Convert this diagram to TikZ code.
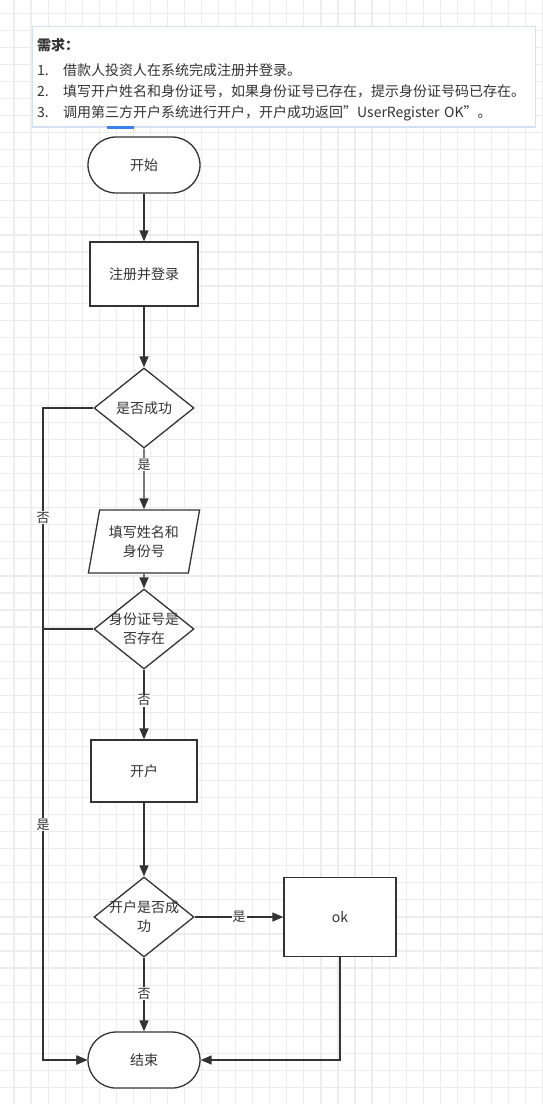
\documentclass[tikz,border=0pt]{standalone}
\usepackage{fontspec}
\setmainfont{Noto Sans CJK SC}
\usepackage{tikz}
\usetikzlibrary{arrows.meta,positioning,shapes.geometric}
\definecolor{linegray}{HTML}{333333}
\definecolor{gridgray}{HTML}{EDEDED}
\definecolor{boxblue}{HTML}{D3E1F3}
\definecolor{tabblue}{HTML}{3B82F0}

\begin{document}
\begin{tikzpicture}[x=1pt, y=-1pt, every node/.style={font=\fontsize{14pt}{19pt}\selectfont, text=linegray}, terminal/.style={draw=linegray,line width=1.3pt,fill=white,rounded corners=28pt,minimum width=112pt,minimum height=56pt}, process/.style={draw=linegray,line width=1.3pt,fill=white,minimum width=108pt,minimum height=64pt}, decision/.style={diamond,draw=linegray,line width=1.3pt,fill=white,minimum width=100pt,minimum height=80pt,inner sep=-8pt,align=center}, iobox/.style={trapezium,trapezium left angle=75,trapezium right angle=105,trapezium stretches=true,draw=linegray,line width=1.3pt,fill=white,minimum width=112pt,minimum height=63pt,inner sep=1pt,align=center}, reqtext/.style={text width=490pt,inner xsep=5pt,inner ysep=12pt,align=left,font=\fontsize{14pt}{21pt}\selectfont}, lbl/.style={fill=white,inner sep=1pt,font=\fontsize{13pt}{15pt}\selectfont}, arr/.style={-{Triangle[length=11pt,width=9pt]},line width=1.4pt,draw=linegray}, gridline/.style={draw=gridgray,line width=1.2pt}]
\useasboundingbox (0,0) rectangle (542,1104);
% background grid
\foreach \i in {0,...,31}{\draw[gridline] (14+17.05*\i,0) -- (14+17.05*\i,1104);}
\foreach \j in {0,...,64}{\draw[gridline] (0,13.25+17.05*\j) -- (542,13.25+17.05*\j);}
% requirements
\draw[boxblue,fill=white,line width=0.8pt] (32,26) rectangle (535,127);
\draw[boxblue,line width=2pt] (32,127) -- (535,127);
\draw[tabblue,line width=3pt] (107,127) -- (134,127);
\node[reqtext,anchor=north west] (req) at (32,26) {\textbf{需求：}\\[4pt]
\makebox[26pt][l]{1.}借款人投资人在系统完成注册并登录。\\
\makebox[26pt][l]{2.}填写开户姓名和身份证号，如果身份证号已存在，提示身份证号码已存在。\\
\makebox[26pt][l]{3.}调用第三方开户系统进行开户，开户成功返回”UserRegister OK”。};
% flow
\node[terminal] (start) at (144,165) {开始};
\node[process,below=47.7pt of start] (reg) {注册并登录};
\node[decision,below=60.7pt of reg] (chk1) {是否成功};
\node[iobox,below=60.7pt of chk1] (fill) {填写姓名和\\身份号};
\node[decision,below=14.7pt of fill] (chk2) {身份证号是\\否存在};
\node[process,minimum width=106pt,minimum height=62pt,below=69.7pt of chk2] (open) {开户};
\node[decision,below=73.7pt of open] (chk3) {开户是否成\\功};
\node[terminal,below=73.7pt of chk3] (stop) {结束};
\node[process,minimum width=112pt,minimum height=79pt,right=88.7pt of chk3] (ok) {ok};
\coordinate (lx) at (43,0);
\foreach \x/\y in {start/reg,reg/chk1,fill/chk2,open/chk3}{\draw[arr] (\x)--(\y);}
\draw[arr] (chk1) -- node[lbl,pos=0.26] (yes1) {是} (fill);
\draw[arr] (chk2) -- node[lbl,pos=0.44] (no2) {否} (open);
\draw[arr] (chk3) -- node[lbl] (yes3) {是} (ok);
\draw[arr] (chk3) -- node[lbl,pos=0.49] (no3) {否} (stop);
\draw[arr] (chk1.west) -- (chk1.west -| lx) |- node[lbl,pos=0.084] (no1) {否} (stop.west);
\draw[arr] (chk2.west) -- (chk2.west -| lx) |- node[lbl,pos=0.227] (yes2) {是} (stop.west);
\draw[arr] (ok) |- (stop.east);
\end{tikzpicture}
\end{document}
